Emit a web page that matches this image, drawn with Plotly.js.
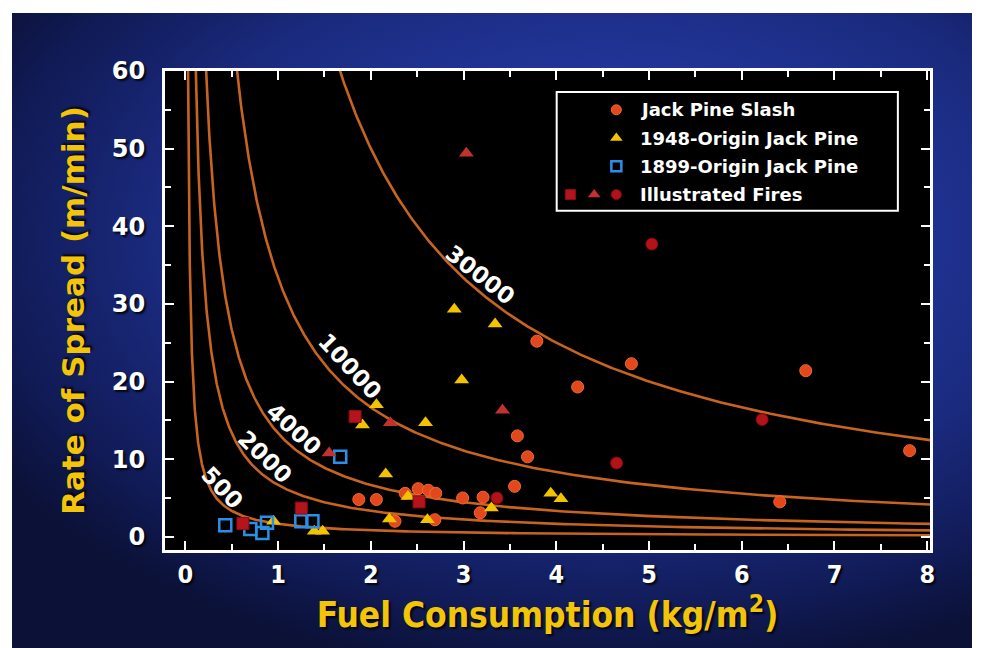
<!DOCTYPE html>
<html>
<head>
<meta charset="utf-8">
<script src="https://cdn.plot.ly/plotly-3.0.1.min.js"></script>
<style>
  html, body { margin:0; padding:0; background:#ffffff; width:983px; height:648px; overflow:hidden; }
  #bg { position:absolute; left:12px; top:13px; width:960px; height:635px;
        background: radial-gradient(ellipse 75% 70% at 62% 35%, #2a43a3 0%, #22369a 35%, #1a2a7e 62%, #111b57 85%, #0b1137 100%); }
  #chart { position:absolute; left:0; top:0; width:983px; height:648px; }
</style>
</head>
<body>
<div id="bg"></div>
<div id="chart"></div>
<script>
// ---- data ----
const slashX = [1.87, 2.06, 2.26, 2.37, 2.51, 2.62, 2.70, 2.69, 2.99, 3.21, 3.18, 3.55, 3.58, 3.69, 3.79, 4.23, 4.81, 6.41, 6.69, 7.81];
const slashY = [4.8, 4.8, 2.0, 5.6, 6.2, 6.0, 5.6, 2.2, 5.0, 5.1, 3.1, 6.5, 13.0, 10.3, 25.2, 19.3, 22.3, 4.5, 21.4, 11.1];

const origin1948X = [0.95, 1.39, 1.48, 1.91, 2.06, 2.16, 2.20, 2.40, 2.59, 2.61, 2.90, 2.98, 3.30, 3.34, 3.94, 4.05];
const origin1948Y = [2.0, 0.7, 0.7, 14.4, 17.0, 8.1, 2.3, 5.2, 14.7, 2.2, 29.3, 20.2, 3.7, 27.4, 5.6, 4.9];

const origin1899X = [0.43, 0.70, 0.83, 0.88, 1.25, 1.37, 1.67];
const origin1899Y = [1.5, 1.0, 0.5, 1.8, 2.0, 2.0, 10.3];

const illusSquareX = [0.62, 1.25, 1.83, 2.52];
const illusSquareY = [1.7, 3.7, 15.5, 4.5];
const illusTriX = [1.55, 2.21, 3.03, 3.42];
const illusTriY = [10.8, 14.7, 49.4, 16.3];
const illusCircX = [3.36, 4.65, 5.03, 6.22];
const illusCircY = [5.0, 9.5, 37.7, 15.1];

// fire intensity isolines (kW/m), Byram: I = H * w * r/60
const intensities = [500, 2000, 4000, 10000, 30000];
const heatContent = 18000; // kJ/kg
const labelX = [0.40, 0.86, 1.17, 1.77, 3.18];
const labelY = [6.3, 10.3, 13.9, 22.0, 33.7];
const labelAngle = [46, 44, 42, 47, 38];

const legendNames = ["Jack Pine Slash", "1948-Origin Jack Pine", "1899-Origin Jack Pine", "Illustrated Fires"];

// ---- styles ----
const curveColor = '#c8641f';
const slashStyle = {symbol:'circle', size:12, color:'#e2481b', line:{color:'#f26a33', width:1}};
const y1948Style = {symbol:'triangle-up', size:13, color:'#f3c300', line:{width:0}};
const y1899Style = {symbol:'square-open', size:12, color:'#2a8fe6', line:{color:'#2a8fe6', width:2.5}};
const sqStyle = {symbol:'square', size:12, color:'#b5141c', line:{color:'#8a0e12', width:1}};
const triStyle = {symbol:'triangle-up', size:13, color:'#c3312d', line:{width:0}};
const circStyle = {symbol:'circle', size:12, color:'#b31219', line:{color:'#7e0b10', width:1}};

const traces = [];
const xMax = 8.05;
intensities.forEach(I => {
  const wMin = 60 * I / (heatContent * 63);
  const xs = [], ys = [];
  const n = 300;
  for (let i = 0; i <= n; i++) {
    const w = wMin * Math.pow(xMax / wMin, i / n);
    xs.push(w);
    ys.push(60 * I / (heatContent * w));
  }
  traces.push({x:xs, y:ys, mode:'lines', line:{color:curveColor, width:2.6}, hoverinfo:'skip', showlegend:false});
});

traces.push({x:slashX, y:slashY, mode:'markers', marker:slashStyle, name:legendNames[0], showlegend:false});
traces.push({x:origin1948X, y:origin1948Y, mode:'markers', marker:y1948Style, name:legendNames[1], showlegend:false});
traces.push({x:origin1899X, y:origin1899Y, mode:'markers', marker:y1899Style, name:legendNames[2], showlegend:false});
traces.push({x:illusSquareX, y:illusSquareY, mode:'markers', marker:sqStyle, name:legendNames[3], showlegend:false});
traces.push({x:illusTriX, y:illusTriY, mode:'markers', marker:triStyle, name:legendNames[3], showlegend:false});
traces.push({x:illusCircX, y:illusCircY, mode:'markers', marker:circStyle, name:legendNames[3], showlegend:false});

// custom legend glyphs on an overlay axis (0..1 over the plot area)
const legRowY = [0.919, 0.860, 0.801, 0.742];
const legMarkX = 0.590;
traces.push({x:[legMarkX], y:[legRowY[0]], xaxis:'x2', yaxis:'y2', mode:'markers', marker:Object.assign({}, slashStyle, {size:10}), showlegend:false, hoverinfo:'skip'});
traces.push({x:[legMarkX], y:[legRowY[1]], xaxis:'x2', yaxis:'y2', mode:'markers', marker:Object.assign({}, y1948Style, {size:11}), showlegend:false, hoverinfo:'skip'});
traces.push({x:[legMarkX], y:[legRowY[2]], xaxis:'x2', yaxis:'y2', mode:'markers', marker:Object.assign({}, y1899Style, {size:10}), showlegend:false, hoverinfo:'skip'});
traces.push({x:[0.530], y:[legRowY[3]], xaxis:'x2', yaxis:'y2', mode:'markers', marker:Object.assign({}, sqStyle, {size:10}), showlegend:false, hoverinfo:'skip'});
traces.push({x:[0.561], y:[legRowY[3]], xaxis:'x2', yaxis:'y2', mode:'markers', marker:Object.assign({}, triStyle, {size:11}), showlegend:false, hoverinfo:'skip'});
traces.push({x:[legMarkX], y:[legRowY[3]], xaxis:'x2', yaxis:'y2', mode:'markers', marker:Object.assign({}, circStyle, {size:10}), showlegend:false, hoverinfo:'skip'});

const shadow = '2px 2px 2px rgba(0,0,0,0.85)';
const annotations = [];
intensities.forEach((I, i) => {
  annotations.push({x:labelX[i], y:labelY[i], xref:'x', yref:'y', text:String(I), showarrow:false,
    textangle:labelAngle[i], font:{family:'DejaVu Sans, sans-serif', size:23, color:'#ffffff', weight:'bold'}});
});
legendNames.forEach((nm, i) => {
  annotations.push({x:0.6185, y:legRowY[i], xref:'paper', yref:'paper', xanchor:'left', yanchor:'middle', text:nm, showarrow:false,
    font:{family:'DejaVu Sans, sans-serif', size:18, color:'#ffffff', weight:'bold'}});
});

const axisCommon = {
  showgrid:false, zeroline:false, showline:true, linecolor:'#ffffff', linewidth:3, mirror:'allticks',
  ticks:'inside', tickcolor:'#ffffff', tickwidth:2, ticklen:9
};

const layout = {
  width:983, height:648,
  paper_bgcolor:'rgba(0,0,0,0)', plot_bgcolor:'#000000',
  margin:{l:165, r:53, t:71, b:98},
  showlegend:false,
  xaxis: Object.assign({}, axisCommon, {
    range:[-0.22, 8.03], tickvals:[0,1,2,3,4,5,6,7,8], ticklabelstandoff:0,
    minor:{dtick:0.5, ticks:'inside', ticklen:6, tickcolor:'#ffffff', tickwidth:2},
    tickfont:{family:'DejaVu Sans Condensed, sans-serif', size:25, color:'#ffffff', weight:'bold', shadow:shadow},
    title:{text:'Fuel Consumption (kg/m<sup>2</sup>)', standoff:6,
      font:{family:'DejaVu Sans Condensed, sans-serif', size:35, color:'#f2c40a', weight:'bold', shadow:shadow}}
  }),
  yaxis: Object.assign({}, axisCommon, {
    range:[-1.7, 60], tickvals:[0,10,20,30,40,50,60], ticklabelstandoff:12,
    minor:{dtick:5, ticks:'inside', ticklen:6, tickcolor:'#ffffff', tickwidth:2},
    tickfont:{family:'DejaVu Sans, sans-serif', size:24, color:'#ffffff', weight:'bold', shadow:shadow},
    title:{text:'Rate of Spread (m/min)', standoff:18,
      font:{family:'DejaVu Sans, sans-serif', size:31, color:'#f2c40a', weight:'bold', shadow:shadow}}
  }),
  xaxis2:{domain:[0,1], range:[0,1], overlaying:'x', anchor:'y2', visible:false, fixedrange:true},
  yaxis2:{domain:[0,1], range:[0,1], overlaying:'y', anchor:'x2', visible:false, fixedrange:true},
  shapes:[{type:'rect', xref:'paper', yref:'paper', x0:0.512, x1:0.958, y0:0.708, y1:0.956,
    line:{color:'#ffffff', width:2}, fillcolor:'#000000', layer:'below'}],
  annotations: annotations
};

Plotly.newPlot('chart', traces, layout, {displayModeBar:false, staticPlot:true});
</script>
</body>
</html>
